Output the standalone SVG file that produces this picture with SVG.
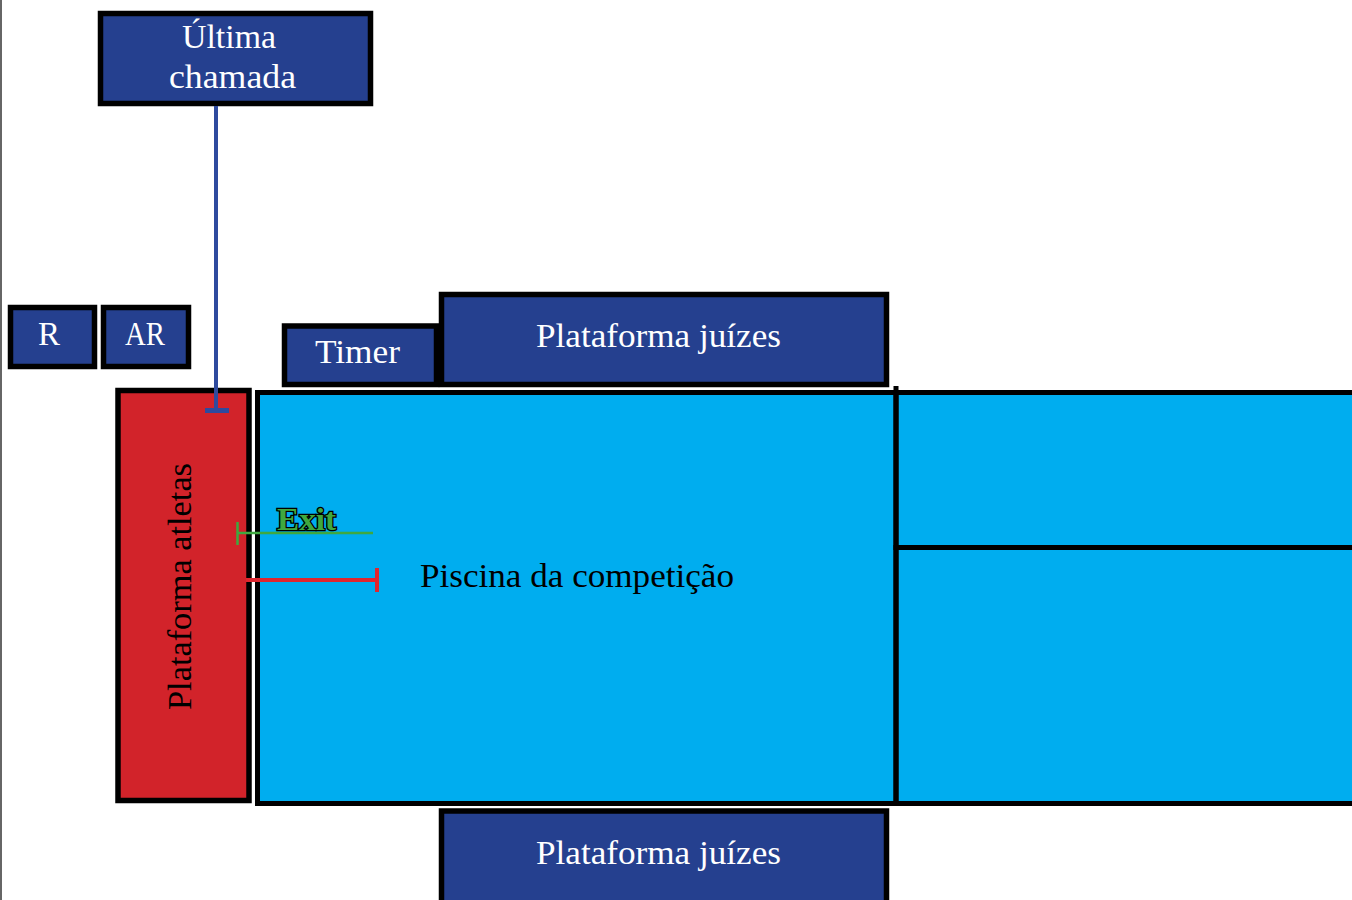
<svg xmlns="http://www.w3.org/2000/svg" width="1352" height="900" viewBox="0 0 1352 900">
<style>
.box{fill:#25408f;stroke:#000;stroke-width:5.5}
.lbl{font-family:"Liberation Serif","DejaVu Serif",serif;font-size:33px;fill:#fff;text-anchor:middle}
.pool{fill:#00adef;stroke:#000;stroke-width:5}
.dark{font-family:"Liberation Serif","DejaVu Serif",serif;font-size:33px;fill:#000;text-anchor:middle}
</style>
<rect width="1352" height="900" fill="#fff"/>
<line x1="1" y1="0" x2="1" y2="900" stroke="#333" stroke-width="1.5"/>
<g id="pool">
<rect class="pool" x="257.5" y="392.5" width="640" height="411"/>
<rect class="pool" x="896" y="392.5" width="470" height="155"/>
<rect class="pool" x="896" y="547.5" width="470" height="256"/>
<line x1="896" y1="386" x2="896" y2="806" stroke="#000" stroke-width="5"/>
<text class="dark" x="577" y="587" textLength="314" lengthAdjust="spacingAndGlyphs">Piscina da competição</text>
</g>
<g id="ultima">
<rect class="box" x="100.5" y="13.5" width="270" height="90"/>
<text class="lbl" x="229" y="48" textLength="94" lengthAdjust="spacingAndGlyphs">Última</text>
<text class="lbl" x="232.5" y="88" textLength="127" lengthAdjust="spacingAndGlyphs">chamada</text>
</g>
<g id="r">
<rect class="box" x="10.5" y="307.5" width="84" height="59"/>
<text class="lbl" x="49" y="345">R</text>
</g>
<g id="ar">
<rect class="box" x="103.5" y="307.5" width="85" height="59"/>
<text class="lbl" x="145" y="345" textLength="40" lengthAdjust="spacingAndGlyphs">AR</text>
</g>
<g id="timer">
<rect class="box" x="284.5" y="326" width="152" height="58.5"/>
<text class="lbl" x="357.5" y="363" textLength="85" lengthAdjust="spacingAndGlyphs">Timer</text>
</g>
<g id="juizes-top">
<rect class="box" x="441.5" y="294.5" width="445" height="90"/>
<text class="lbl" x="658.5" y="347" textLength="245" lengthAdjust="spacingAndGlyphs">Plataforma juízes</text>
</g>
<g id="juizes-bottom">
<rect class="box" x="441.5" y="811" width="445" height="100"/>
<text class="lbl" x="658.5" y="864" textLength="245" lengthAdjust="spacingAndGlyphs">Plataforma juízes</text>
</g>
<g id="atletas">
<rect x="118" y="390.5" width="131" height="410" fill="#d2232a" stroke="#000" stroke-width="5.5"/>
<text class="dark" x="180" y="586.5" transform="rotate(-90 180 586.5)" dy="11" textLength="247" lengthAdjust="spacingAndGlyphs">Plataforma atletas</text>
</g>
<g id="connectors">
<line x1="216" y1="106" x2="216" y2="410" stroke="#2e4a9e" stroke-width="4"/>
<line x1="205" y1="410.5" x2="229" y2="410.5" stroke="#2e4a9e" stroke-width="5"/>
<line x1="237" y1="533" x2="373" y2="533" stroke="#3fa83f" stroke-width="2.5"/>
<line x1="237.5" y1="522" x2="237.5" y2="545" stroke="#3fa83f" stroke-width="2.5"/>
<line x1="246" y1="580" x2="377" y2="580" stroke="#e0262f" stroke-width="4"/>
<line x1="377" y1="568" x2="377" y2="592" stroke="#e0262f" stroke-width="4"/>
<text x="306.5" y="530" font-family="Liberation Serif,DejaVu Serif,serif" font-size="31" font-weight="bold" fill="#3fa83f" stroke="#000" stroke-width="2.5" paint-order="stroke" text-anchor="middle" textLength="59" lengthAdjust="spacingAndGlyphs">Exit</text>
</g>
</svg>
